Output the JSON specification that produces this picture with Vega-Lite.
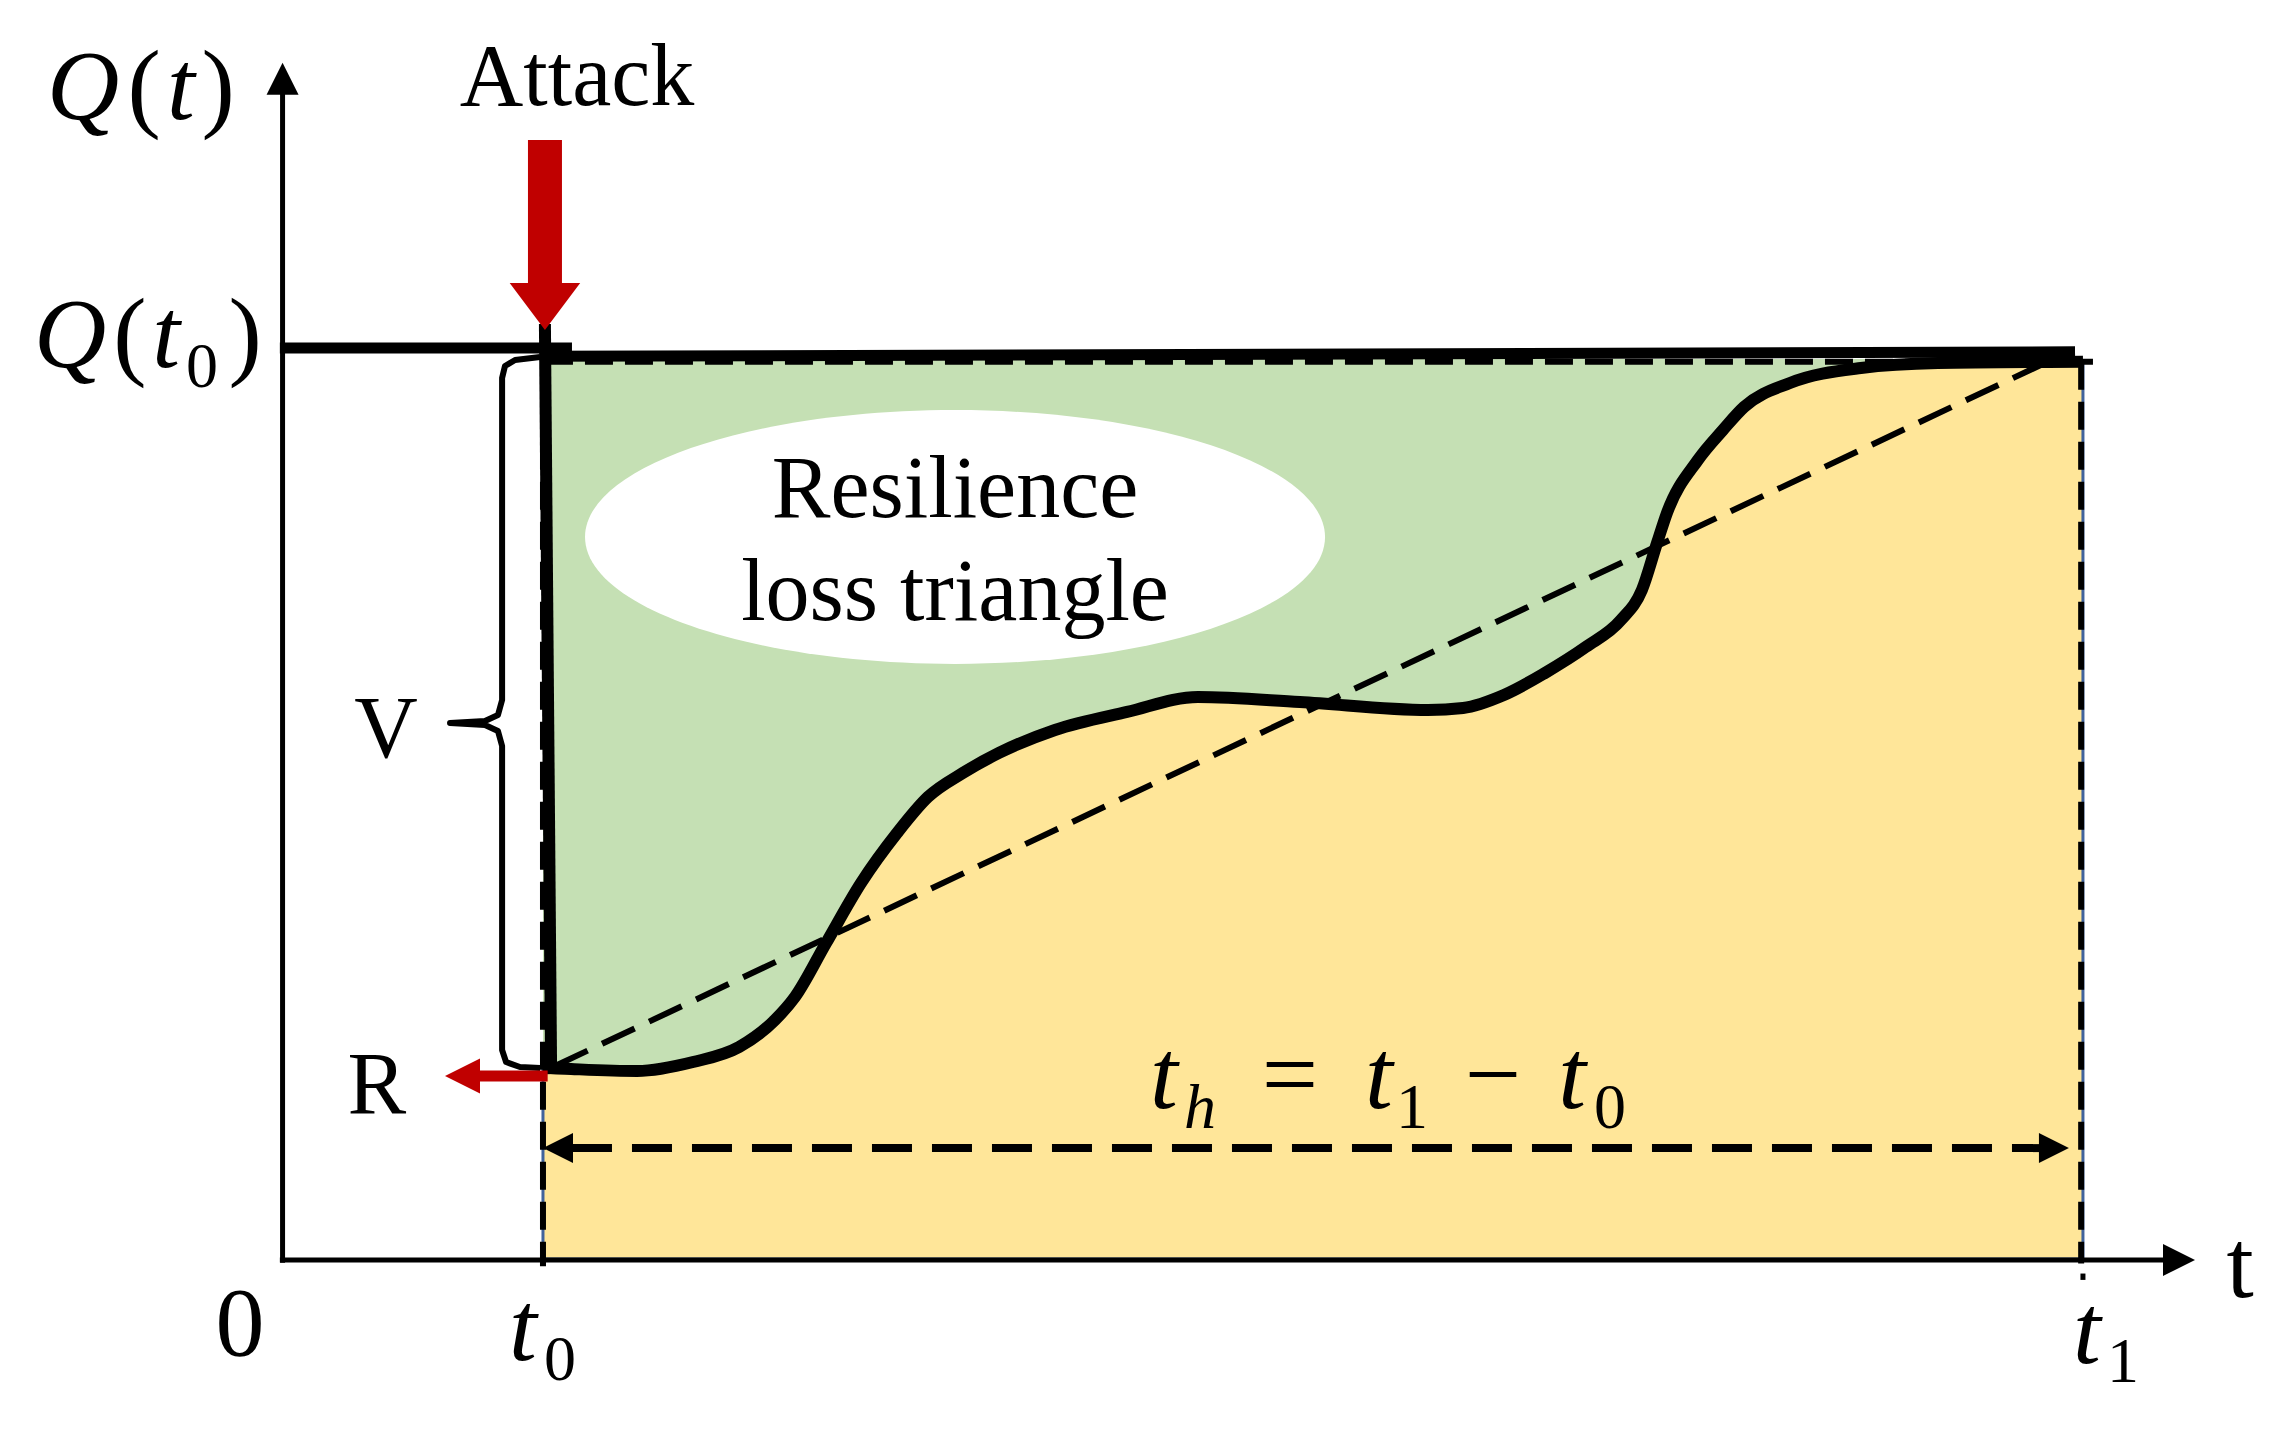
{
  "$schema": "https://vega.github.io/schema/vega-lite/v6.json",
  "width": 2287,
  "height": 1446,
  "autosize": {"type": "fit", "contains": "padding"},
  "padding": 0,
  "background": "white",
  "config": {"view": {"stroke": null}},
  "datasets": {
    "one": [{}],
    "curve": [
      {"t": 1.449, "q": 21.1}, {"t": 1.494, "q": 21.0}, {"t": 1.605, "q": 20.9}, {"t": 1.971, "q": 20.68},
      {"t": 2.282, "q": 21.67}, {"t": 2.538, "q": 23.32}, {"t": 2.737, "q": 26.29}, {"t": 2.848, "q": 28.82},
      {"t": 3.021, "q": 34.76}, {"t": 3.215, "q": 41.36}, {"t": 3.415, "q": 46.86}, {"t": 3.587, "q": 50.83},
      {"t": 3.781, "q": 53.47}, {"t": 3.981, "q": 55.67}, {"t": 4.292, "q": 58.2}, {"t": 4.692, "q": 60.18},
      {"t": 5.086, "q": 61.83}, {"t": 5.652, "q": 61.28}, {"t": 6.363, "q": 60.4}, {"t": 6.558, "q": 60.62},
      {"t": 6.785, "q": 62.05}, {"t": 7.013, "q": 64.47}, {"t": 7.24, "q": 67.33}, {"t": 7.435, "q": 70.3},
      {"t": 7.551, "q": 73.6}, {"t": 7.635, "q": 78.77}, {"t": 7.69, "q": 82.07}, {"t": 7.862, "q": 87.9},
      {"t": 8.001, "q": 91.2}, {"t": 8.118, "q": 93.73}, {"t": 8.373, "q": 96.37}, {"t": 8.767, "q": 98.02},
      {"t": 9.195, "q": 98.57}, {"t": 9.761, "q": 98.68}, {"t": 10.0, "q": 98.7}
    ],
    "brace": [
      {"i": 1, "t": 1.433, "q": 99.23}, {"i": 2, "t": 1.294, "q": 98.9}, {"i": 3, "t": 1.238, "q": 98.24},
      {"i": 4, "t": 1.222, "q": 96.92}, {"i": 5, "t": 1.222, "q": 61.5}, {"i": 6, "t": 1.199, "q": 59.85},
      {"i": 7, "t": 1.127, "q": 59.19}, {"i": 8, "t": 0.933, "q": 58.97}, {"i": 9, "t": 1.127, "q": 58.75},
      {"i": 10, "t": 1.199, "q": 58.09}, {"i": 11, "t": 1.222, "q": 56.44}, {"i": 12, "t": 1.222, "q": 22.99},
      {"i": 13, "t": 1.244, "q": 21.67}, {"i": 14, "t": 1.321, "q": 21.12}, {"i": 15, "t": 1.433, "q": 21.01}
    ],
    "serif": [
      {"label": "Attack", "t": 1.638, "q": 126.95},
      {"label": "V", "t": 0.577, "q": 55.23},
      {"label": "R", "t": 0.527, "q": 16.06},
      {"label": "Resilience", "t": 3.737, "q": 81.63},
      {"label": "loss triangle", "t": 3.737, "q": 70.3}
    ],
    "serifbig": [
      {"label": "0", "t": -0.233, "q": -10.56},
      {"label": "t", "t": 10.872, "q": -4.18}
    ],
    "mathit": [
      {"label": "Q", "t": -1.105, "q": 125.41}, {"label": "t", "t": -0.561, "q": 125.41},
      {"label": "Q", "t": -1.177, "q": 98.13}, {"label": "t", "t": -0.644, "q": 98.13},
      {"label": "t", "t": 1.338, "q": -11.11}, {"label": "t", "t": 10.022, "q": -11.44},
      {"label": "t", "t": 4.897, "q": 16.61}, {"label": "t", "t": 6.091, "q": 16.61},
      {"label": "t", "t": 7.163, "q": 16.61}
    ],
    "mathup": [
      {"label": "(", "t": -0.766, "q": 125.41}, {"label": ")", "t": -0.355, "q": 125.41},
      {"label": "(", "t": -0.844, "q": 98.13}, {"label": ")", "t": -0.205, "q": 98.13},
      {"label": "=", "t": 5.597, "q": 16.61}, {"label": "−", "t": 6.724, "q": 16.61}
    ],
    "subup": [
      {"label": "0", "t": -0.444, "q": 95.93}, {"label": "0", "t": 1.544, "q": -13.31},
      {"label": "1", "t": 10.222, "q": -13.53}, {"label": "1", "t": 6.274, "q": 14.41},
      {"label": "0", "t": 7.374, "q": 14.41}
    ],
    "subit": [
      {"label": "h", "t": 5.097, "q": 14.41}
    ]
  },
  "layer": [
    {
      "data": {"name": "curve"},
      "mark": {"type": "area", "fill": "#FFE699", "stroke": "#41639C", "strokeWidth": 3, "opacity": 1, "orient": "vertical", "interpolate": "monotone"},
      "encoding": {
        "x": {"field": "t", "type": "quantitative", "scale": {"domain": [-1.566, 11.133], "nice": false, "zero": false}, "axis": null},
        "y": {"field": "q", "type": "quantitative", "scale": {"domain": [-20.572, 138.504], "nice": false, "zero": false}, "axis": null},
        "y2": {"datum": 0}
      }
    },
    {
      "data": {"name": "curve"},
      "mark": {"type": "area", "fill": "#C5E0B4", "opacity": 1, "orient": "vertical", "interpolate": "monotone"},
      "encoding": {
        "x": {"field": "t", "type": "quantitative", "scale": {"domain": [-1.566, 11.133], "nice": false, "zero": false}, "axis": null},
        "y": {"field": "q", "type": "quantitative", "scale": {"domain": [-20.572, 138.504], "nice": false, "zero": false}, "axis": null},
        "y2": {"datum": 99.0}
      }
    },
    {
      "data": {"name": "one"},
      "mark": {"type": "point", "shape": "M-1,0C-1,-0.1894,-0.5523,-0.343,0,-0.343C0.5523,-0.343,1,-0.1894,1,0C1,0.1894,0.5523,0.343,0,0.343C-0.5523,0.343,-1,0.1894,-1,0Z", "size": 547600, "filled": true, "color": "white", "opacity": 1, "strokeOpacity": 0},
      "encoding": {
        "x": {"datum": 3.737, "type": "quantitative", "scale": {"domain": [-1.566, 11.133], "nice": false, "zero": false}, "axis": null},
        "y": {"datum": 79.43, "type": "quantitative", "scale": {"domain": [-20.572, 138.504], "nice": false, "zero": false}, "axis": null}
      }
    },
    {
      "data": {"name": "one"},
      "mark": {"type": "rule", "color": "black", "strokeWidth": 6, "strokeDash": [28, 12]},
      "encoding": {
        "x": {"datum": 1.449, "type": "quantitative", "scale": {"domain": [-1.566, 11.133], "nice": false, "zero": false}, "axis": null},
        "y": {"datum": 98.7, "type": "quantitative", "scale": {"domain": [-20.572, 138.504], "nice": false, "zero": false}, "axis": null},
        "y2": {"datum": -0.8}
      }
    },
    {
      "data": {"name": "one"},
      "mark": {"type": "rule", "color": "black", "strokeWidth": 6, "strokeDash": [28, 12]},
      "encoding": {
        "x": {"datum": 9.99, "type": "quantitative", "scale": {"domain": [-1.566, 11.133], "nice": false, "zero": false}, "axis": null},
        "y": {"datum": 98.7, "type": "quantitative", "scale": {"domain": [-20.572, 138.504], "nice": false, "zero": false}, "axis": null},
        "y2": {"datum": -0.5}
      }
    },
    {
      "data": {"name": "one"},
      "mark": {"type": "rule", "color": "black", "strokeWidth": 5},
      "encoding": {
        "x": {"datum": 10.0, "type": "quantitative", "scale": {"domain": [-1.566, 11.133], "nice": false, "zero": false}, "axis": null},
        "y": {"datum": -1.6, "type": "quantitative", "scale": {"domain": [-20.572, 138.504], "nice": false, "zero": false}, "axis": null},
        "y2": {"datum": -2.3}
      }
    },
    {
      "data": {"name": "one"},
      "mark": {"type": "rule", "color": "black", "strokeWidth": 6, "strokeDash": [28, 12]},
      "encoding": {
        "x": {"datum": 1.46, "type": "quantitative", "scale": {"domain": [-1.566, 11.133], "nice": false, "zero": false}, "axis": null},
        "x2": {"datum": 10.12},
        "y": {"datum": 98.7, "type": "quantitative", "scale": {"domain": [-20.572, 138.504], "nice": false, "zero": false}, "axis": null}
      }
    },
    {
      "data": {"name": "one"},
      "mark": {"type": "rule", "color": "black", "strokeWidth": 6, "strokeDash": [36, 16]},
      "encoding": {
        "x": {"datum": 1.516, "type": "quantitative", "scale": {"domain": [-1.566, 11.133], "nice": false, "zero": false}, "axis": null},
        "x2": {"datum": 9.789},
        "y": {"datum": 21.23, "type": "quantitative", "scale": {"domain": [-20.572, 138.504], "nice": false, "zero": false}, "axis": null},
        "y2": {"datum": 98.57}
      }
    },
    {
      "data": {"name": "one"},
      "mark": {"type": "rule", "color": "black", "strokeWidth": 8, "strokeDash": [40, 20]},
      "encoding": {
        "x": {"datum": 1.61, "type": "quantitative", "scale": {"domain": [-1.566, 11.133], "nice": false, "zero": false}, "axis": null},
        "x2": {"datum": 9.76},
        "y": {"datum": 12.2, "type": "quantitative", "scale": {"domain": [-20.572, 138.504], "nice": false, "zero": false}, "axis": null}
      }
    },
    {
      "data": {"name": "one"},
      "mark": {"type": "point", "shape": "M0,0L-1,-0.5L-1,0.5Z", "size": 3600, "filled": true, "color": "black", "opacity": 1, "strokeOpacity": 0},
      "encoding": {
        "x": {"datum": 9.922, "type": "quantitative", "scale": {"domain": [-1.566, 11.133], "nice": false, "zero": false}, "axis": null},
        "y": {"datum": 12.2, "type": "quantitative", "scale": {"domain": [-20.572, 138.504], "nice": false, "zero": false}, "axis": null}
      }
    },
    {
      "data": {"name": "one"},
      "mark": {"type": "point", "shape": "M0,0L1,-0.5L1,0.5Z", "size": 3600, "filled": true, "color": "black", "opacity": 1, "strokeOpacity": 0},
      "encoding": {
        "x": {"datum": 1.449, "type": "quantitative", "scale": {"domain": [-1.566, 11.133], "nice": false, "zero": false}, "axis": null},
        "y": {"datum": 12.2, "type": "quantitative", "scale": {"domain": [-20.572, 138.504], "nice": false, "zero": false}, "axis": null}
      }
    },
    {
      "data": {"name": "curve"},
      "mark": {"type": "line", "color": "black", "strokeWidth": 12, "interpolate": "monotone"},
      "encoding": {
        "x": {"field": "t", "type": "quantitative", "scale": {"domain": [-1.566, 11.133], "nice": false, "zero": false}, "axis": null},
        "y": {"field": "q", "type": "quantitative", "scale": {"domain": [-20.572, 138.504], "nice": false, "zero": false}, "axis": null}
      }
    },
    {
      "data": {"name": "one"},
      "mark": {"type": "rule", "color": "black", "strokeWidth": 12, "strokeCap": "square"},
      "encoding": {
        "x": {"datum": 1.46, "type": "quantitative", "scale": {"domain": [-1.566, 11.133], "nice": false, "zero": false}, "axis": null},
        "x2": {"datum": 1.494},
        "y": {"datum": 102.2, "type": "quantitative", "scale": {"domain": [-20.572, 138.504], "nice": false, "zero": false}, "axis": null},
        "y2": {"datum": 21.0}
      }
    },
    {
      "data": {"name": "one"},
      "mark": {"type": "rule", "color": "black", "strokeWidth": 11},
      "encoding": {
        "x": {"datum": 1.433, "type": "quantitative", "scale": {"domain": [-1.566, 11.133], "nice": false, "zero": false}, "axis": null},
        "x2": {"datum": 9.956},
        "y": {"datum": 99.3, "type": "quantitative", "scale": {"domain": [-20.572, 138.504], "nice": false, "zero": false}, "axis": null},
        "y2": {"datum": 99.8}
      }
    },
    {
      "data": {"name": "one"},
      "mark": {"type": "rule", "color": "black", "strokeWidth": 11},
      "encoding": {
        "x": {"datum": -0.012, "type": "quantitative", "scale": {"domain": [-1.566, 11.133], "nice": false, "zero": false}, "axis": null},
        "x2": {"datum": 1.61},
        "y": {"datum": 100.22, "type": "quantitative", "scale": {"domain": [-20.572, 138.504], "nice": false, "zero": false}, "axis": null}
      }
    },
    {
      "data": {"name": "one"},
      "mark": {"type": "rule", "color": "black", "strokeWidth": 5},
      "encoding": {
        "x": {"datum": 0.003, "type": "quantitative", "scale": {"domain": [-1.566, 11.133], "nice": false, "zero": false}, "axis": null},
        "y": {"datum": -0.4, "type": "quantitative", "scale": {"domain": [-20.572, 138.504], "nice": false, "zero": false}, "axis": null},
        "y2": {"datum": 128.3}
      }
    },
    {
      "data": {"name": "one"},
      "mark": {"type": "rule", "color": "black", "strokeWidth": 5},
      "encoding": {
        "x": {"datum": -0.012, "type": "quantitative", "scale": {"domain": [-1.566, 11.133], "nice": false, "zero": false}, "axis": null},
        "x2": {"datum": 10.46},
        "y": {"datum": -0.11, "type": "quantitative", "scale": {"domain": [-20.572, 138.504], "nice": false, "zero": false}, "axis": null}
      }
    },
    {
      "data": {"name": "one"},
      "mark": {"type": "point", "shape": "M0,0L-0.5,1L0.5,1Z", "size": 4096, "filled": true, "color": "black", "opacity": 1, "strokeOpacity": 0},
      "encoding": {
        "x": {"datum": 0.003, "type": "quantitative", "scale": {"domain": [-1.566, 11.133], "nice": false, "zero": false}, "axis": null},
        "y": {"datum": 131.6, "type": "quantitative", "scale": {"domain": [-20.572, 138.504], "nice": false, "zero": false}, "axis": null}
      }
    },
    {
      "data": {"name": "one"},
      "mark": {"type": "point", "shape": "M0,0L-1,-0.5L-1,0.5Z", "size": 4096, "filled": true, "color": "black", "opacity": 1, "strokeOpacity": 0},
      "encoding": {
        "x": {"datum": 10.622, "type": "quantitative", "scale": {"domain": [-1.566, 11.133], "nice": false, "zero": false}, "axis": null},
        "y": {"datum": -0.11, "type": "quantitative", "scale": {"domain": [-20.572, 138.504], "nice": false, "zero": false}, "axis": null}
      }
    },
    {
      "data": {"name": "brace"},
      "mark": {"type": "line", "color": "black", "strokeWidth": 6, "strokeJoin": "round"},
      "encoding": {
        "x": {"field": "t", "type": "quantitative", "scale": {"domain": [-1.566, 11.133], "nice": false, "zero": false}, "axis": null},
        "y": {"field": "q", "type": "quantitative", "scale": {"domain": [-20.572, 138.504], "nice": false, "zero": false}, "axis": null},
        "order": {"field": "i", "type": "quantitative"}
      }
    },
    {
      "data": {"name": "one"},
      "mark": {"type": "rule", "color": "#C00000", "strokeWidth": 34},
      "encoding": {
        "x": {"datum": 1.46, "type": "quantitative", "scale": {"domain": [-1.566, 11.133], "nice": false, "zero": false}, "axis": null},
        "y": {"datum": 107.0, "type": "quantitative", "scale": {"domain": [-20.572, 138.504], "nice": false, "zero": false}, "axis": null},
        "y2": {"datum": 123.1}
      }
    },
    {
      "data": {"name": "one"},
      "mark": {"type": "point", "shape": "M0,0L-0.75,-1L0.75,-1Z", "size": 8836, "filled": true, "color": "#C00000", "opacity": 1, "strokeOpacity": 0},
      "encoding": {
        "x": {"datum": 1.46, "type": "quantitative", "scale": {"domain": [-1.566, 11.133], "nice": false, "zero": false}, "axis": null},
        "y": {"datum": 102.2, "type": "quantitative", "scale": {"domain": [-20.572, 138.504], "nice": false, "zero": false}, "axis": null}
      }
    },
    {
      "data": {"name": "one"},
      "mark": {"type": "rule", "color": "#C00000", "strokeWidth": 11},
      "encoding": {
        "x": {"datum": 1.06, "type": "quantitative", "scale": {"domain": [-1.566, 11.133], "nice": false, "zero": false}, "axis": null},
        "x2": {"datum": 1.475},
        "y": {"datum": 20.13, "type": "quantitative", "scale": {"domain": [-20.572, 138.504], "nice": false, "zero": false}, "axis": null}
      }
    },
    {
      "data": {"name": "one"},
      "mark": {"type": "point", "shape": "M0,0L1,-0.5L1,0.5Z", "size": 4900, "filled": true, "color": "#C00000", "opacity": 1, "strokeOpacity": 0},
      "encoding": {
        "x": {"datum": 0.905, "type": "quantitative", "scale": {"domain": [-1.566, 11.133], "nice": false, "zero": false}, "axis": null},
        "y": {"datum": 20.13, "type": "quantitative", "scale": {"domain": [-20.572, 138.504], "nice": false, "zero": false}, "axis": null}
      }
    },
    {
      "data": {"name": "serif"},
      "mark": {"type": "text", "font": "Liberation Serif", "fontSize": 88, "align": "center", "baseline": "alphabetic", "color": "black"},
      "encoding": {
        "x": {"field": "t", "type": "quantitative", "scale": {"domain": [-1.566, 11.133], "nice": false, "zero": false}, "axis": null},
        "y": {"field": "q", "type": "quantitative", "scale": {"domain": [-20.572, 138.504], "nice": false, "zero": false}, "axis": null},
        "text": {"field": "label"}
      }
    },
    {
      "data": {"name": "serifbig"},
      "mark": {"type": "text", "font": "Liberation Serif", "fontSize": 98, "align": "center", "baseline": "alphabetic", "color": "black"},
      "encoding": {
        "x": {"field": "t", "type": "quantitative", "scale": {"domain": [-1.566, 11.133], "nice": false, "zero": false}, "axis": null},
        "y": {"field": "q", "type": "quantitative", "scale": {"domain": [-20.572, 138.504], "nice": false, "zero": false}, "axis": null},
        "text": {"field": "label"}
      }
    },
    {
      "data": {"name": "mathit"},
      "mark": {"type": "text", "font": "Liberation Serif", "fontStyle": "italic", "fontSize": 100, "align": "center", "baseline": "alphabetic", "color": "black"},
      "encoding": {
        "x": {"field": "t", "type": "quantitative", "scale": {"domain": [-1.566, 11.133], "nice": false, "zero": false}, "axis": null},
        "y": {"field": "q", "type": "quantitative", "scale": {"domain": [-20.572, 138.504], "nice": false, "zero": false}, "axis": null},
        "text": {"field": "label"}
      }
    },
    {
      "data": {"name": "mathup"},
      "mark": {"type": "text", "font": "Liberation Serif", "fontSize": 100, "align": "center", "baseline": "alphabetic", "color": "black"},
      "encoding": {
        "x": {"field": "t", "type": "quantitative", "scale": {"domain": [-1.566, 11.133], "nice": false, "zero": false}, "axis": null},
        "y": {"field": "q", "type": "quantitative", "scale": {"domain": [-20.572, 138.504], "nice": false, "zero": false}, "axis": null},
        "text": {"field": "label"}
      }
    },
    {
      "data": {"name": "subup"},
      "mark": {"type": "text", "font": "Liberation Serif", "fontSize": 64, "align": "center", "baseline": "alphabetic", "color": "black"},
      "encoding": {
        "x": {"field": "t", "type": "quantitative", "scale": {"domain": [-1.566, 11.133], "nice": false, "zero": false}, "axis": null},
        "y": {"field": "q", "type": "quantitative", "scale": {"domain": [-20.572, 138.504], "nice": false, "zero": false}, "axis": null},
        "text": {"field": "label"}
      }
    },
    {
      "data": {"name": "subit"},
      "mark": {"type": "text", "font": "Liberation Serif", "fontStyle": "italic", "fontSize": 64, "align": "center", "baseline": "alphabetic", "color": "black"},
      "encoding": {
        "x": {"field": "t", "type": "quantitative", "scale": {"domain": [-1.566, 11.133], "nice": false, "zero": false}, "axis": null},
        "y": {"field": "q", "type": "quantitative", "scale": {"domain": [-20.572, 138.504], "nice": false, "zero": false}, "axis": null},
        "text": {"field": "label"}
      }
    }
  ]
}
